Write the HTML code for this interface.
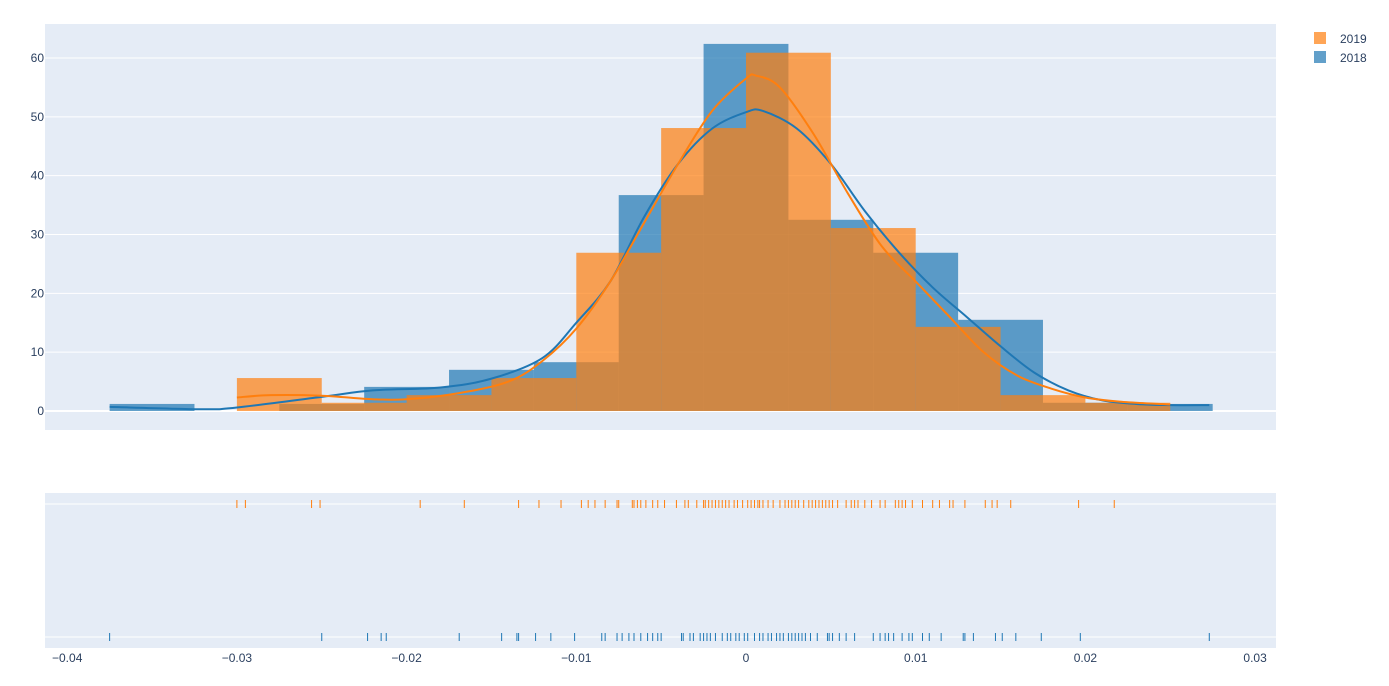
<!DOCTYPE html>
<html><head><meta charset="utf-8"><style>
body{margin:0;background:#fff;font-family:"Liberation Sans",sans-serif}
svg text{font-family:"Liberation Sans",sans-serif;font-size:12px;fill:#2a3f5f}
</style></head><body>
<svg id="chart" width="1389" height="681" xmlns="http://www.w3.org/2000/svg">
<rect x="45" y="24" width="1231" height="406" fill="#e5ecf6"/>
<rect x="45" y="493" width="1231" height="155" fill="#e5ecf6"/>
<g id="grid"></g><g id="bars"></g><g id="curves"></g><g id="rug"></g><g id="axes"></g>
<g>
<g><rect x="1314" y="32" width="12" height="12" fill="#ff7f0e" opacity="0.7"/><text x="1340" y="43">2019</text></g>
<g><rect x="1314" y="51" width="12" height="12" fill="#1f77b4" opacity="0.7"/><text x="1340" y="62">2018</text></g>
</g>
</svg>
<script>
const xTicks=[-0.04,-0.03,-0.02,-0.01,0,0.01,0.02,0.03];
const xTickLabels=["−0.04","−0.03","−0.02","−0.01","0","0.01","0.02","0.03"];
const yTicks=[0,10,20,30,40,50,60];
const binStart2018=-0.0375, binStart2019=-0.030, binWidth=0.005;
const hist2018=[1.2,0,1.2,4.1,7,8.3,36.7,62.4,32.5,26.9,15.5,1.4,1.2];
const hist2019=[5.6,1.4,2.7,5.6,26.9,48.1,60.9,31.1,14.3,2.7,1.4];
const kdeX2018=[-0.0375,-0.032,-0.03,-0.025,-0.022,-0.018,-0.015,-0.012,-0.01,-0.008,-0.006,-0.004,-0.002,0,0.001,0.003,0.005,0.007,0.009,0.011,0.013,0.015,0.017,0.019,0.021,0.023,0.025,0.0273];
const kdeY2018=[0.7,0.3,0.6,2.4,3.5,4.0,5.5,9,15,22,33,42,48,50.8,51,48,42,34,27,21,16,11,6.5,3.5,1.8,1.2,1.0,1.0];
const kdeX2019=[-0.03,-0.028,-0.025,-0.022,-0.02,-0.017,-0.014,-0.012,-0.01,-0.008,-0.006,-0.004,-0.002,0,0.0006,0.002,0.004,0.006,0.008,0.01,0.012,0.014,0.016,0.018,0.02,0.022,0.025];
const kdeY2019=[2.3,2.7,2.6,2.0,2.0,3,5,8.5,14,22,32,42,51,56.5,57,55,47,37,28,22,16,10,6,3.8,2.3,1.6,1.1];
const rug2019=[-0.0300,-0.0295,-0.0256,-0.0251,-0.0192,-0.0166,-0.0134,-0.0122,-0.0109,-0.0097,-0.0093,-0.0089,-0.0083,-0.0076,-0.0075,-0.0067,-0.0066,-0.0064,-0.0062,-0.0059,-0.0055,-0.0052,-0.0048,-0.0041,-0.0036,-0.0034,-0.0029,-0.0025,-0.0024,-0.0022,-0.0020,-0.0018,-0.0016,-0.0014,-0.0012,-0.0010,-0.0007,-0.0005,-0.0002,0.0001,0.0003,0.0005,0.0007,0.0008,0.0010,0.0013,0.0016,0.0020,0.0023,0.0025,0.0027,0.0029,0.0031,0.0034,0.0037,0.0039,0.0041,0.0043,0.0045,0.0047,0.0049,0.0051,0.0054,0.0059,0.0062,0.0064,0.0066,0.0070,0.0074,0.0079,0.0082,0.0088,0.0090,0.0092,0.0094,0.0098,0.0104,0.0110,0.0114,0.0120,0.0122,0.0129,0.0141,0.0145,0.0148,0.0156,0.0196,0.0217];
const rug2018=[-0.0375,-0.0250,-0.0223,-0.0215,-0.0212,-0.0169,-0.0144,-0.0135,-0.0134,-0.0124,-0.0115,-0.0101,-0.0085,-0.0083,-0.0076,-0.0073,-0.0069,-0.0066,-0.0062,-0.0058,-0.0055,-0.0052,-0.0050,-0.0038,-0.0037,-0.0033,-0.0031,-0.0027,-0.0025,-0.0023,-0.0021,-0.0018,-0.0014,-0.0011,-0.0009,-0.0006,-0.0004,-0.0001,0.0001,0.0005,0.0008,0.0010,0.0013,0.0015,0.0018,0.0020,0.0022,0.0025,0.0027,0.0029,0.0031,0.0033,0.0035,0.0038,0.0042,0.0048,0.0049,0.0051,0.0055,0.0059,0.0064,0.0075,0.0079,0.0082,0.0084,0.0087,0.0092,0.0096,0.0098,0.0104,0.0108,0.0115,0.0128,0.0129,0.0134,0.0147,0.0151,0.0159,0.0174,0.0197,0.0273];
const NS="http://www.w3.org/2000/svg";
const X=v=>746+v*16970, Y=v=>411-v*5.883;
function mk(p,t,a){const e=document.createElementNS(NS,t);for(const k in a)e.setAttribute(k,a[k]);document.getElementById(p).appendChild(e);return e;}
yTicks.forEach(t=>{
 const l=mk('grid','line',{x1:45,x2:1276,y1:Y(t),y2:Y(t),stroke:'#fff','stroke-width':t===0?2:1});
 
 
 const tx=mk('axes','text',{x:44,y:Y(t)+4,'text-anchor':'end'});tx.textContent=t;
 
 
});
[504,637].forEach(y=>{const l=mk('grid','line',{x1:45,x2:1276,y1:y,y2:y,stroke:'#fff'});
 
 });
xTicks.forEach((t,i)=>{const tx=mk('axes','text',{x:X(t),y:662,'text-anchor':'middle'});tx.textContent=xTickLabels[i];
 
 });
function bars(vals,start,col,name){vals.forEach((v,i)=>{if(v<=0)return;const x0=X(start+i*binWidth),x1=X(start+(i+1)*binWidth);
 const r=mk('bars','rect',{x:x0,y:Y(v),width:x1-x0,height:Y(0)-Y(v),fill:col,opacity:0.7});
 
 });}
bars(hist2018,binStart2018,'#1f77b4','bar-2018');
bars(hist2019,binStart2019,'#ff7f0e','bar-2019');
function smooth(pts){let d='M'+pts[0][0]+','+pts[0][1];
 for(let i=0;i<pts.length-1;i++){const p0=pts[i-1]||pts[i],p1=pts[i],p2=pts[i+1],p3=pts[i+2]||p2;
  const c1=[p1[0]+(p2[0]-p0[0])/6,p1[1]+(p2[1]-p0[1])/6],c2=[p2[0]-(p3[0]-p1[0])/6,p2[1]-(p3[1]-p1[1])/6];
  d+='C'+c1[0]+','+c1[1]+' '+c2[0]+','+c2[1]+' '+p2[0]+','+p2[1];}
 return d;}
function curve(xs,ys,col,name){const p=mk('curves','path',{d:smooth(xs.map((x,i)=>[X(x),Y(ys[i])])),fill:'none',stroke:col,'stroke-width':2,'stroke-linejoin':'round'});
 
 }
curve(kdeX2018,kdeY2018,'#1f77b4','kde-curve-2018');
curve(kdeX2019,kdeY2019,'#ff7f0e','kde-curve-2019');
function rug(vals,y,col,name){vals.forEach(v=>{const l=mk('rug','line',{x1:X(v),x2:X(v),y1:y-4,y2:y+4,stroke:col,'stroke-width':1});
 
 });}
rug(rug2019,504,'#ff7f0e','rug-tick-2019');
rug(rug2018,637,'#1f77b4','rug-tick-2018');
</script>
</body></html>
